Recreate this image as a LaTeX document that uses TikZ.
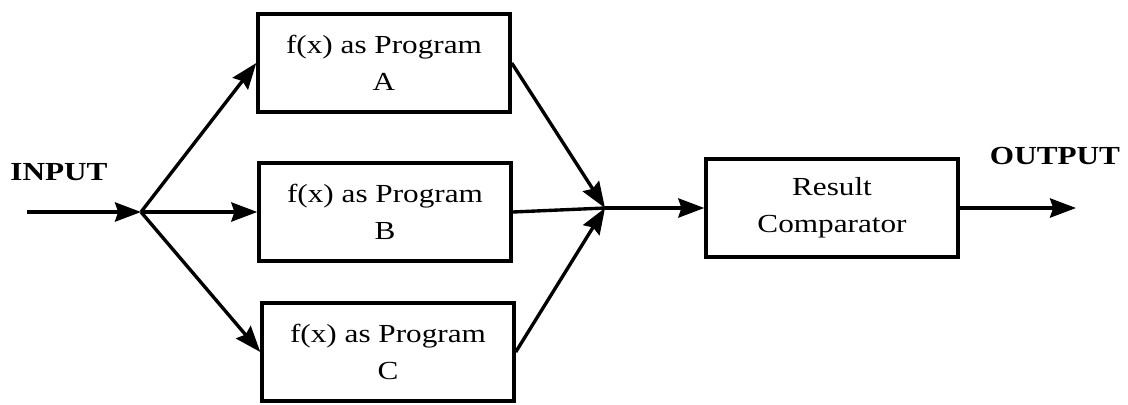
\documentclass[tikz,border=0pt]{standalone}
\usepackage{fontspec}
\setmainfont[FakeStretch=1.2]{Liberation Serif}
\usetikzlibrary{arrows.meta,positioning}

\begin{document}
\begin{tikzpicture}[x=0.025cm, y=-0.025cm,
  prg/.style={draw, line width=2.4pt, minimum width=6.3cm, minimum height=2.45cm, align=center, inner sep=0pt},
  lbl/.style={font=\fontsize{18.5}{26}\selectfont\bfseries},
  arr/.style={line width=2.4pt, -{Stealth[length=0.65cm, width=0.48cm, inset=0.08cm]}},
  font=\fontsize{18.5}{26}\selectfont]
\useasboundingbox (0,0) rectangle (1128,404);
\node[prg] (pa) at (384,63) {f(x) as Program\\A};
\node[prg] (pb) at (385,212) {f(x) as Program\\B};
\node[prg] (pc) at (388,352) {f(x) as Program\\C};
\node[prg] (cmp) at (832,208) {Result\\Comparator};
\node[lbl] (inlbl) at (59,172) {INPUT};
\node[lbl] (outlbl) at (1055,156) {OUTPUT};
\coordinate (in) at (27,212);
\coordinate (spl) at (141,212);
\coordinate (mrg) at (605,208);
\coordinate (out) at (1076,208);
\draw[arr] (in) -- (spl);
\draw[arr] (spl) -- (pa.west);
\draw[arr] (spl) -- (pb.west);
\draw[arr] (spl) -- (pc.west);
\draw[arr] (pa.east) -- (mrg);
\draw[line width=2.4pt] (pb.east) -- (mrg);
\draw[arr] (pc.east) -- (mrg);
\draw[arr] (mrg) -- (cmp.west);
\draw[arr] (cmp.east) -- (out);
\end{tikzpicture}
\end{document}
